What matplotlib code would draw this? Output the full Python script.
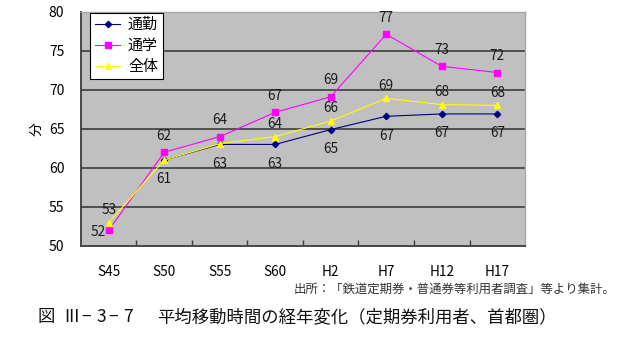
import numpy as np
import matplotlib
matplotlib.use("Agg")
import matplotlib.pyplot as plt

plt.rcParams['font.family'] = ['Noto Sans CJK JP', 'DejaVu Sans']

categories = ['S45', 'S50', 'S55', 'S60', 'H2', 'H7', 'H12', 'H17']
commute = [np.nan, 61, 63, 63, 64.9, 66.6, 66.9, 66.9]   # 通勤
school = [52, 62, 64, 67.1, 69.1, 77.1, 73.0, 72.2]      # 通学
overall = [53, 61, 63.1, 64, 66, 68.9, 68.1, 68.0]       # 全体
y_ticks = [50, 55, 60, 65, 70, 75, 80]

W, H = 620, 341
fig = plt.figure(figsize=(W / 100, H / 100), dpi=100)
ax = fig.add_axes([0.1306, 0.2786, 0.7162, 0.6874])
ax.set_facecolor('#c0c0c0')

x = np.arange(len(categories))
ax.set_xlim(-0.5, len(categories) - 0.5)
ax.set_ylim(50, 80)

for yv in y_ticks[1:-1]:
    ax.axhline(yv, color='#3c3c3c', lw=1.2, zorder=1)

ax.plot(x, commute, color='#000080', lw=0.8, marker='D', ms=3.2, zorder=3, label='通勤')
ax.plot(x, school, color='#ff00ff', lw=0.8, marker='s', ms=4, zorder=4, label='通学')
ax.plot(x, overall, color='#ffff00', lw=0.8, marker='^', ms=4.5, zorder=5, label='全体')

lab_kw = dict(textcoords='offset points', ha='center', va='center', fontsize=9.8, color='#1a1a1a', zorder=6)
for i, v in enumerate(school):
    if i == 0:
        ax.annotate(f'{v:.0f}', (x[i], v), xytext=(-7.5, -1), **lab_kw)
    else:
        ax.annotate(f'{v:.0f}', (x[i], v), xytext=(0, 12), **lab_kw)
for i, v in enumerate(overall):
    if i in (1, 2):
        continue
    ax.annotate(f'{v:.0f}', (x[i], v), xytext=(0, 9), **lab_kw)
for i, v in enumerate(commute):
    if np.isnan(v):
        continue
    ax.annotate(f'{v:.0f}', (x[i], v), xytext=(0, -14), **lab_kw)

ax.set_yticks(y_ticks)
ax.set_yticklabels([str(t) for t in y_ticks], fontsize=10)
ax.tick_params(axis='y', length=0, pad=12)
ax.set_xticks(x)
ax.set_xticklabels(categories, fontsize=9.8)
ax.tick_params(axis='x', length=0, pad=14)
ax.set_xticks(x[:-1] + 0.5, minor=True)
ax.tick_params(axis='x', which='minor', direction='in', length=4, color='#3c3c3c', width=1)

for side in ('left', 'bottom'):
    ax.spines[side].set_color('#3c3c3c')
    ax.spines[side].set_linewidth(1.3)
for side in ('top', 'right'):
    ax.spines[side].set_color('#a8a8a8')
    ax.spines[side].set_linewidth(1.0)

ax.set_ylabel('分', fontsize=10, labelpad=4)

leg = ax.legend(loc='upper left', bbox_to_anchor=(0.018, 0.998), fontsize=10.8, frameon=True,
                fancybox=False, edgecolor='black', framealpha=1, handlelength=1.7,
                handletextpad=0.5, borderpad=0.35, labelspacing=0.45, borderaxespad=0.05)
leg.get_frame().set_linewidth(0.8)

fig.text(0.993, 0.152, '出所：「鉄道定期券・普通券等利用者調査」等より集計。', ha='right', va='center',
         fontsize=8.95, color='#333333')

# figure number, laid out on a fixed character pitch
title_y = 0.07
num_parts = ['図', 'III', '−', '3', '−', '7']
num_x_px = [46, 71.7, 86, 101.5, 113.5, 127.5]
for ch, px in zip(num_parts, num_x_px):
    fig.text(px / W, title_y, ch, ha='center', va='center', fontsize=12.5, color='#111111')
fig.text(157 / W, title_y, '平均移動時間の経年変化（定期券利用者、首都圏）', ha='left', va='center',
         fontsize=12.5, color='#111111')

fig.savefig('out.png', dpi=100)
